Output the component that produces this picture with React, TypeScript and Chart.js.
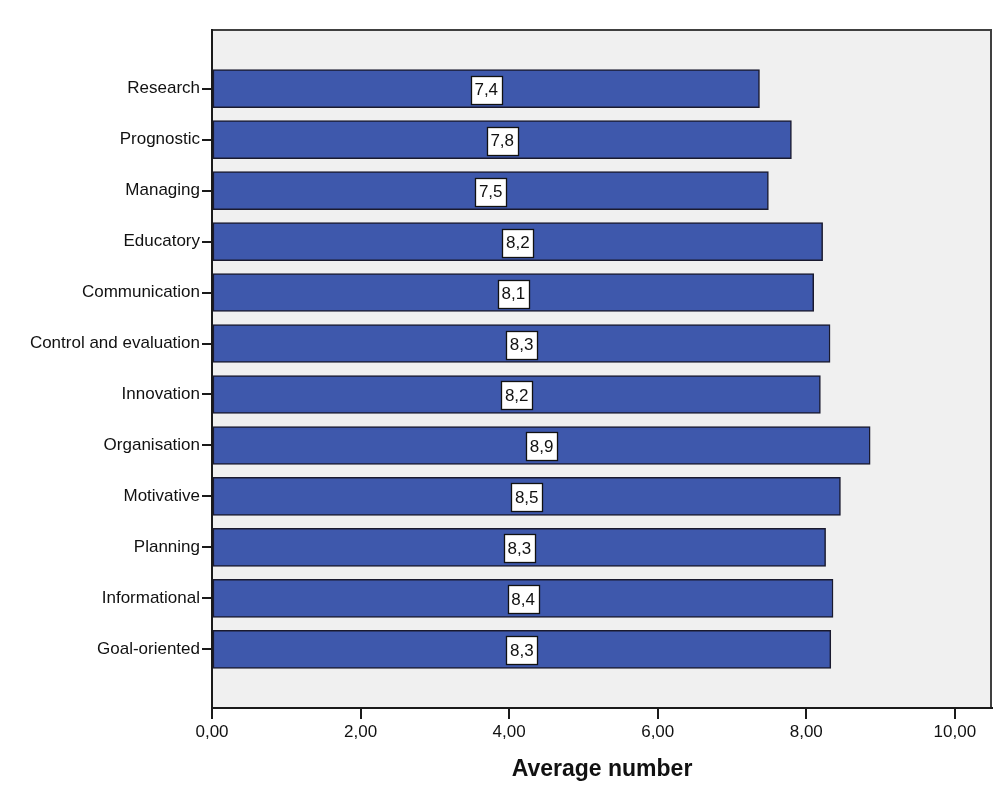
import { useEffect, useRef } from "react";
import { Chart, registerables } from "chart.js";

Chart.register(...registerables);

// Mean score per function, top to bottom
const categories = [
  "Research",
  "Prognostic",
  "Managing",
  "Educatory",
  "Communication",
  "Control and evaluation",
  "Innovation",
  "Organisation",
  "Motivative",
  "Planning",
  "Informational",
  "Goal-oriented",
];
const averages = [7.37, 7.8, 7.49, 8.22, 8.1, 8.32, 8.19, 8.86, 8.46, 8.26, 8.36, 8.33];
const xTicks = [0, 2, 4, 6, 8, 10];
const axisTitle = "Average number";

const FONT = '"Liberation Sans", Arial, sans-serif';
const BAR_COLOR = "#3e58ac";
const PLOT_BG = "#f0f0f0";

const commaDecimal = (v: number, digits: number) => v.toFixed(digits).replace(".", ",");

const plotDecor = {
  id: "plotDecor",
  beforeDraw(chart: any) {
    const { ctx, chartArea: a } = chart;
    ctx.save();
    ctx.fillStyle = PLOT_BG;
    ctx.fillRect(a.left, a.top, a.right - a.left, a.bottom - a.top);
    // frame along the top and right of the plot area
    ctx.strokeStyle = "#404040";
    ctx.lineWidth = 2;
    ctx.beginPath();
    ctx.moveTo(Math.round(a.left), Math.round(a.top));
    ctx.lineTo(Math.round(a.right) - 1, Math.round(a.top));
    ctx.lineTo(Math.round(a.right) - 1, Math.round(a.bottom));
    ctx.stroke();
    ctx.restore();
  },
  afterDatasetsDraw(chart: any) {
    const { ctx, chartArea: a } = chart;
    ctx.save();

    // value boxes in the middle of each bar
    const meta = chart.getDatasetMeta(0);
    ctx.font = `17px ${FONT}`;
    ctx.textAlign = "center";
    ctx.textBaseline = "middle";
    ctx.lineWidth = 1.3;
    meta.data.forEach((bar: any, i: number) => {
      const text = commaDecimal(averages[i], 1);
      const mid = (bar.x + bar.base) / 2;
      const cy = bar.y + 1;
      const w = Math.round(ctx.measureText(text).width + 7);
      const h = 28;
      const left = Math.round(mid - w / 2) + 0.5;
      const top = Math.round(cy - h / 2) + 0.5;
      ctx.fillStyle = "#ffffff";
      ctx.fillRect(left, top, w, h);
      ctx.strokeStyle = "#111111";
      ctx.strokeRect(left, top, w, h);
      ctx.fillStyle = "#111111";
      ctx.fillText(text, mid, cy + 1);
    });

    // x-axis title
    ctx.font = `bold 23px ${FONT}`;
    ctx.fillStyle = "#111111";
    ctx.textAlign = "center";
    ctx.textBaseline = "middle";
    ctx.fillText(axisTitle, (a.left + a.right) / 2, 770);
    ctx.restore();
  },
};

export default function App() {
  const canvasRef = useRef<HTMLCanvasElement | null>(null);

  useEffect(() => {
    const canvas = canvasRef.current;
    if (!canvas) return;
    const chart = new Chart(canvas, {
      type: "bar",
      data: {
        datasets: [
          {
            data: averages.map((v, i) => ({ x: v, y: i })),
            backgroundColor: BAR_COLOR,
            borderColor: "#1a1a2e",
            borderWidth: 1.5,
            borderSkipped: false,
            barThickness: 38,
          },
        ],
      },
      options: {
        responsive: false,
        animation: false,
        indexAxis: "y",
        layout: { padding: { top: 30, right: 5, left: 0, bottom: 0 } },
        plugins: {
          legend: { display: false },
          tooltip: { enabled: false },
          title: { display: false },
        },
        scales: {
          x: {
            type: "linear",
            position: "bottom",
            min: 0,
            max: 10.5,
            offset: false,
            afterBuildTicks: (s: any) => {
              s.ticks = xTicks.map((v) => ({ value: v }));
            },
            afterFit: (s: any) => {
              s.height = 97;
            },
            grid: {
              offset: false,
              drawOnChartArea: false,
              drawTicks: true,
              tickLength: 11,
              color: "#1a1a1a",
              lineWidth: 2,
            },
            border: { display: true, color: "#1a1a1a", width: 2 },
            ticks: {
              color: "#111111",
              font: { family: FONT, size: 17 },
              padding: 3,
              maxRotation: 0,
              autoSkip: false,
              callback: (v: any) => commaDecimal(Number(v), 2),
            },
          },
          y: {
            type: "linear",
            position: "left",
            min: -1.15,
            max: 12.15,
            reverse: true,
            offset: false,
            afterBuildTicks: (s: any) => {
              s.ticks = categories.map((_, i) => ({ value: i }));
            },
            afterFit: (s: any) => {
              s.width = 212;
            },
            grid: {
              offset: false,
              drawOnChartArea: false,
              drawTicks: true,
              tickLength: 10,
              color: "#1a1a1a",
              lineWidth: 2,
            },
            border: { display: true, color: "#1a1a1a", width: 2 },
            ticks: {
              color: "#111111",
              font: { family: FONT, size: 17 },
              padding: 2,
              autoSkip: false,
              callback: (v: any) => categories[Number(v)] ?? "",
            },
          },
        },
      },
      plugins: [plotDecor],
    } as any);
    return () => chart.destroy();
  }, []);

  return (
    <div
      style={{
        position: "fixed",
        left: 0,
        top: 0,
        width: 997,
        height: 805,
        background: "#ffffff",
      }}
    >
      <canvas ref={canvasRef} width={997} height={805} style={{ display: "block" }} />
    </div>
  );
}
